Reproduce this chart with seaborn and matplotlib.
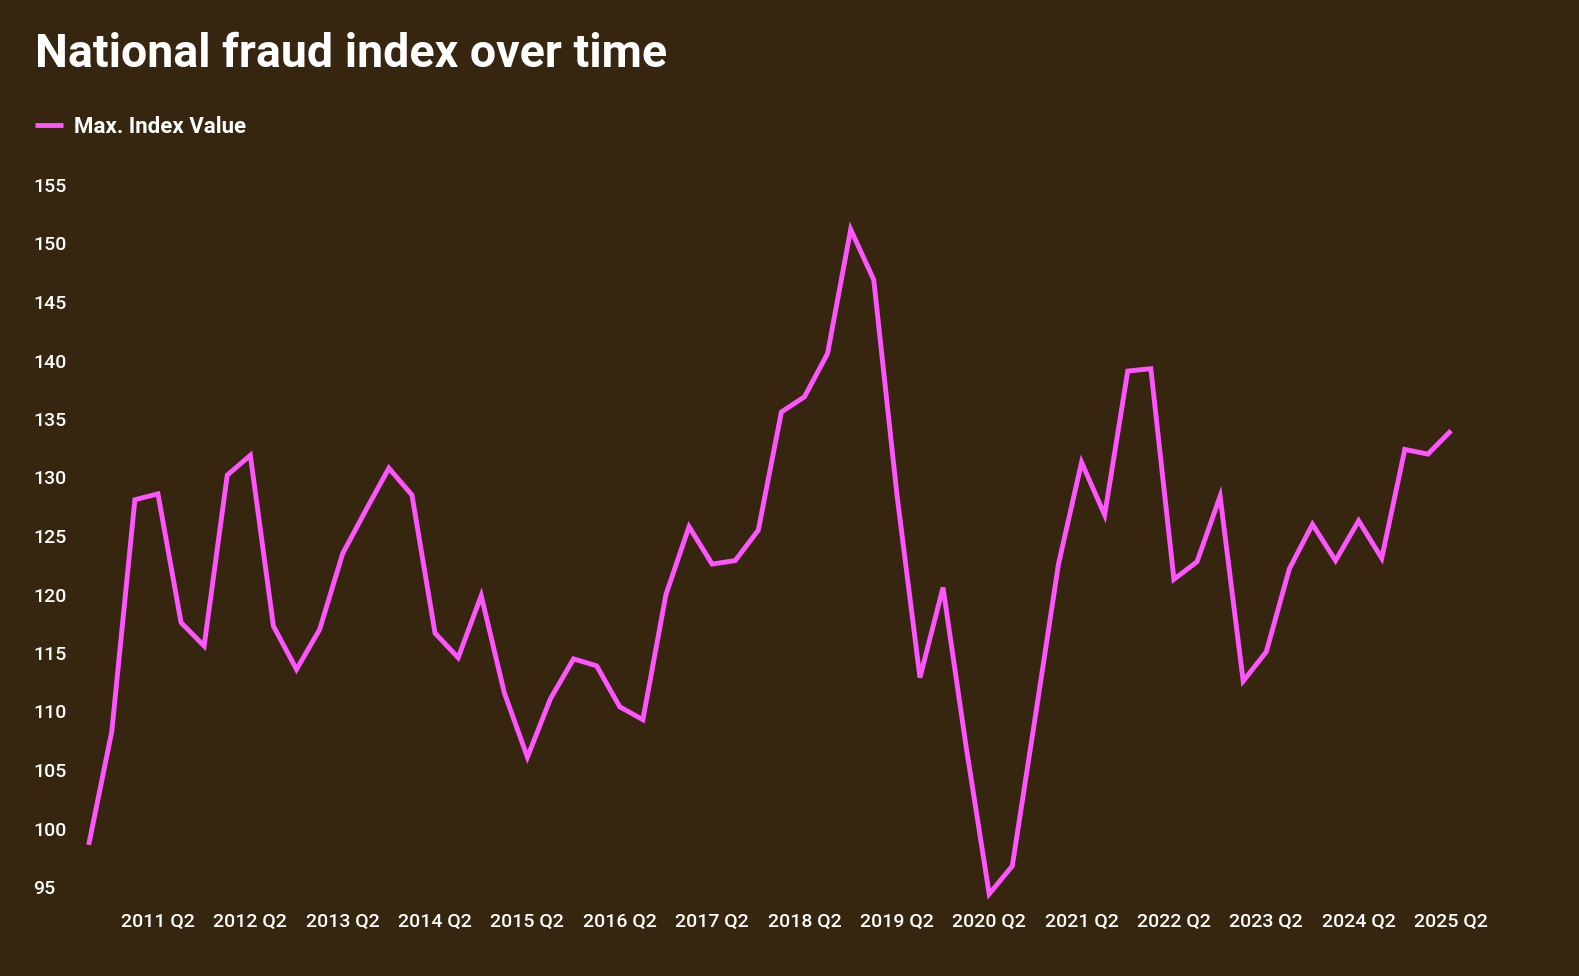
import matplotlib
matplotlib.use("Agg")
import matplotlib.pyplot as plt
import seaborn as sns
import pandas as pd

# ---- data ----
years_q = [(2010, 3), (2010, 4)] + [(y, q) for y in range(2011, 2025) for q in (1, 2, 3, 4)] + [(2025, 1), (2025, 2)]
quarters = [f"{y} Q{q}" for y, q in years_q]
values = [98.6, 108.3, 128.1, 128.6, 117.6, 115.6, 130.2, 131.9, 117.3, 113.6,
          117.0, 123.5, 127.2, 130.8, 128.5, 116.7, 114.6, 119.9, 111.6, 106.1,
          111.1, 114.5, 113.9, 110.4, 109.3, 120.0, 125.8, 122.6, 122.9, 125.5,
          135.6, 136.9, 140.6, 151.2, 146.9, 128.6, 112.9, 120.6, 107.0, 94.4,
          96.8, 109.6, 122.6, 131.3, 126.8, 139.1, 139.3, 121.3, 122.8, 128.4,
          112.6, 115.1, 122.2, 126.0, 122.9, 126.3, 123.1, 132.4, 132.0, 134.0]
tick_labels = ["2011 Q2", "2012 Q2", "2013 Q2", "2014 Q2", "2015 Q2", "2016 Q2",
               "2017 Q2", "2018 Q2", "2019 Q2", "2020 Q2", "2021 Q2", "2022 Q2",
               "2023 Q2", "2024 Q2", "2025 Q2"]
y_ticks = [95, 100, 105, 110, 115, 120, 125, 130, 135, 140, 145, 150, 155]
series_name = "Max. Index Value"
title = "National fraud index over time"

df = pd.DataFrame({"pos": range(len(quarters)), "quarter": quarters, "value": values})

BG = "#37260f"
PINK = "#ff55ff"
FG = "#ffffff"

sns.set_theme(style="white")
FONT = ["Roboto", "DejaVu Sans"]
plt.rcParams["font.family"] = FONT

W, H = 1579, 976
fig = plt.figure(figsize=(W / 100, H / 100), dpi=100, facecolor=BG)
x0, x1 = 88.7, 1451.0
y_top, y_bot = 185.0, 887.0
ax = fig.add_axes([x0 / W, 1 - y_bot / H, (x1 - x0) / W, (y_bot - y_top) / H])
ax.set_facecolor(BG)

sns.lineplot(data=df, x="pos", y="value", ax=ax, color=PINK, linewidth=3.5,
             label=series_name, legend=False)
for ln in ax.lines:
    ln.set_clip_on(False)
    ln.set_solid_joinstyle("miter")
    ln.set_solid_capstyle("butt")

ax.set_xlim(0, len(quarters) - 1)
ax.set_ylim(95, 155)
for s in ax.spines.values():
    s.set_visible(False)
ax.grid(False)

tick_pos = [quarters.index(t) for t in tick_labels]
ax.set_xticks(tick_pos)
ax.set_xticklabels(tick_labels)
ax.set_yticks(y_ticks)
ax.set_yticklabels([str(v) for v in y_ticks])
ax.tick_params(axis="x", length=0, pad=19, labelsize=14, colors=FG)
ax.tick_params(axis="y", length=0, pad=(x0 - 33) * 0.72, labelsize=14, colors=FG)
for lab in ax.get_yticklabels():
    lab.set_horizontalalignment("left")
    lab.set_fontweight("medium")
for lab in ax.get_xticklabels():
    lab.set_fontweight("medium")
ax.set_xlabel("")
ax.set_ylabel("")

fig.text(35 / W, 1 - 67 / H, title, color=FG, fontsize=33.5, fontweight="bold",
         va="baseline", ha="left")

handles, labels = ax.get_legend_handles_labels()
leg = fig.legend(handles, labels, loc="center left", bbox_to_anchor=(35 / W, 1 - 127 / H),
                 frameon=False, borderpad=0, borderaxespad=0, handlelength=1.25,
                 handletextpad=0.5, prop={"size": 16, "weight": "bold", "family": FONT})
for t in leg.get_texts():
    t.set_color(FG)
for lh in leg.get_lines():
    lh.set_linewidth(3.5)

fig.savefig("out.png", dpi=100, facecolor=BG)
